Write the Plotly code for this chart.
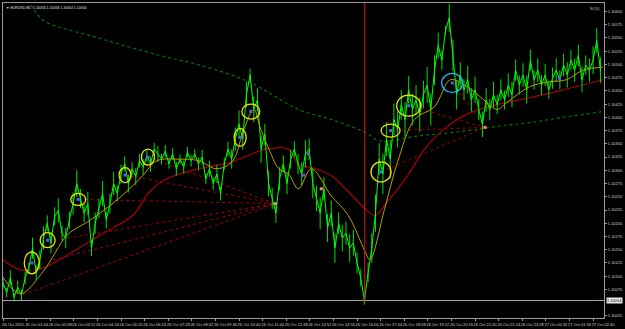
import plotly.graph_objects as go
import pandas as pd

# ---------------- data ----------------
start_time = "2015-10-26 00:00"
close = [
    1.10088, 1.10069, 1.10097, 1.10060, 1.10079, 1.10064, 1.10097, 1.10116, 1.10153, 1.10107,
    1.10131, 1.10172, 1.10200, 1.10163, 1.10213, 1.10224, 1.10181, 1.10172, 1.10206, 1.10237,
    1.10275, 1.10247, 1.10219, 1.10237, 1.10153, 1.10200, 1.10228, 1.10256, 1.10206, 1.10237,
    1.10275, 1.10256, 1.10293, 1.10312, 1.10275, 1.10303, 1.10288, 1.10318, 1.10306, 1.10327,
    1.10312, 1.10340, 1.10331, 1.10321, 1.10336, 1.10312, 1.10331, 1.10303, 1.10321, 1.10306,
    1.10334, 1.10318, 1.10331, 1.10312, 1.10325, 1.10284, 1.10303, 1.10275, 1.10293, 1.10256,
    1.10312, 1.10340, 1.10321, 1.10359, 1.10387, 1.10359, 1.10443, 1.10480, 1.10415, 1.10433,
    1.10340, 1.10368, 1.10275, 1.10247, 1.10219, 1.10284, 1.10312, 1.10275, 1.10321, 1.10340,
    1.10312, 1.10293, 1.10331, 1.10340, 1.10275, 1.10247, 1.10219, 1.10265, 1.10191, 1.10219,
    1.10153, 1.10200, 1.10172, 1.10181, 1.10153, 1.10163, 1.10125, 1.10097, 1.10054, 1.10107,
    1.10153, 1.10219, 1.10321, 1.10293, 1.10359, 1.10321, 1.10396, 1.10377, 1.10424, 1.10396,
    1.10452, 1.10415, 1.10433, 1.10405, 1.10443, 1.10461, 1.10415, 1.10489, 1.10536, 1.10508,
    1.10564, 1.10588, 1.10517, 1.10443, 1.10480, 1.10452, 1.10471, 1.10433, 1.10452, 1.10415,
    1.10387, 1.10433, 1.10415, 1.10443, 1.10424, 1.10452, 1.10433, 1.10461, 1.10443, 1.10489,
    1.10461, 1.10480, 1.10452, 1.10508, 1.10471, 1.10489, 1.10461, 1.10480, 1.10452, 1.10474,
    1.10489, 1.10471, 1.10499, 1.10480, 1.10508, 1.10489, 1.10517, 1.10471, 1.10499, 1.10489,
    1.10508, 1.10545, 1.10489,
]
# half of the high-low range of the minute bars around each close (price units)
bar_half_range = [
    0.00012, 0.00009, 0.00014, 0.00008, 0.00013, 0.00010, 0.00012, 0.00009,
    0.00020, 0.00014, 0.00018, 0.00022, 0.00015, 0.00020, 0.00017, 0.00023, 0.00014, 0.00019,
    0.00016, 0.00021, 0.00025, 0.00018,
    0.00017, 0.00022, 0.00015, 0.00020, 0.00018, 0.00024, 0.00016, 0.00019, 0.00022, 0.00015,
    0.00018,
    0.00014, 0.00017, 0.00012, 0.00016, 0.00013, 0.00015, 0.00011, 0.00014, 0.00012, 0.00015,
    0.00010, 0.00012, 0.00009, 0.00011, 0.00013, 0.00009, 0.00012, 0.00010, 0.00011, 0.00009,
    0.00012, 0.00014, 0.00010, 0.00015, 0.00012, 0.00017, 0.00013, 0.00011, 0.00014,
    0.00018, 0.00022, 0.00026, 0.00020, 0.00024, 0.00012, 0.00024, 0.00022, 0.00026, 0.00020,
    0.00024,
    0.00020, 0.00018, 0.00022, 0.00016, 0.00020, 0.00018, 0.00015, 0.00019,
    0.00022, 0.00026, 0.00020, 0.00028, 0.00024, 0.00030, 0.00022, 0.00026, 0.00024, 0.00028,
    0.00020, 0.00025, 0.00022, 0.00026, 0.00024, 0.00020, 0.00016, 0.00008,
    0.00018, 0.00028, 0.00035, 0.00030, 0.00038, 0.00032, 0.00036, 0.00030, 0.00034, 0.00028,
    0.00032, 0.00026, 0.00030, 0.00028, 0.00032, 0.00026, 0.00034, 0.00030, 0.00028, 0.00024,
    0.00018, 0.00008, 0.00026, 0.00030, 0.00028,
    0.00024, 0.00020, 0.00026, 0.00022, 0.00025, 0.00020, 0.00024, 0.00022, 0.00020, 0.00024,
    0.00018,
    0.00020, 0.00018, 0.00022, 0.00024, 0.00020, 0.00018, 0.00022, 0.00026, 0.00020, 0.00018,
    0.00022, 0.00019, 0.00021, 0.00017, 0.00020, 0.00022, 0.00018, 0.00021, 0.00024, 0.00019,
    0.00022, 0.00020, 0.00024, 0.00018, 0.00022, 0.00026, 0.00024, 0.00024,
]

ma_fast_time = [
    "2015-10-26 00:00", "2015-10-26 00:48", "2015-10-26 01:50", "2015-10-26 02:55", "2015-10-26 03:57",
    "2015-10-26 05:04", "2015-10-26 05:52", "2015-10-26 06:19", "2015-10-26 06:57", "2015-10-26 07:59",
    "2015-10-26 08:52", "2015-10-26 09:38", "2015-10-26 10:21", "2015-10-26 10:53", "2015-10-26 11:20",
    "2015-10-26 11:39", "2015-10-26 12:01", "2015-10-26 12:28", "2015-10-26 12:54", "2015-10-26 13:21",
    "2015-10-26 13:56", "2015-10-26 14:50", "2015-10-26 15:36", "2015-10-26 16:21", "2015-10-26 16:35",
    "2015-10-26 17:15", "2015-10-26 17:50", "2015-10-26 18:36", "2015-10-26 19:30", "2015-10-26 20:13",
    "2015-10-26 20:58", "2015-10-26 21:44", "2015-10-26 22:20", "2015-10-26 22:46", "2015-10-26 23:48",
    "2015-10-27 00:42", "2015-10-27 01:27", "2015-10-27 02:13", "2015-10-27 03:07",
]
ma_fast = [
    1.10097, 1.10067, 1.10110, 1.10178, 1.10206, 1.10241, 1.10271, 1.10290, 1.10318, 1.10321,
    1.10318, 1.10303, 1.10316, 1.10377, 1.10415, 1.10377, 1.10340, 1.10303, 1.10293, 1.10265,
    1.10303, 1.10252, 1.10215, 1.10148, 1.10131, 1.10228, 1.10316, 1.10396, 1.10420, 1.10471,
    1.10458, 1.10433, 1.10415, 1.10428, 1.10458, 1.10467, 1.10471, 1.10489, 1.10495,
]

ma_slow_time = [
    "2015-10-26 00:00", "2015-10-26 00:48", "2015-10-26 01:50", "2015-10-26 02:55", "2015-10-26 04:24",
    "2015-10-26 05:52", "2015-10-26 06:38", "2015-10-26 07:24", "2015-10-26 08:52", "2015-10-26 10:21",
    "2015-10-26 11:53", "2015-10-26 12:54", "2015-10-26 13:21", "2015-10-26 14:07", "2015-10-26 14:50",
    "2015-10-26 15:36", "2015-10-26 16:21", "2015-10-26 16:48", "2015-10-26 17:23", "2015-10-26 18:17",
    "2015-10-26 19:03", "2015-10-26 20:05", "2015-10-26 21:07", "2015-10-26 22:20", "2015-10-26 23:48",
    "2015-10-27 01:19", "2015-10-27 03:07",
]
ma_slow = [
    1.10131, 1.10112, 1.10116, 1.10140, 1.10178, 1.10215, 1.10260, 1.10284, 1.10303, 1.10316,
    1.10340, 1.10340, 1.10312, 1.10303, 1.10290, 1.10260, 1.10228, 1.10215, 1.10241, 1.10290,
    1.10340, 1.10383, 1.10409, 1.10424, 1.10437, 1.10452, 1.10471,
]

ma_long_time = [
    "2015-10-26 00:48", "2015-10-26 01:21", "2015-10-26 01:50", "2015-10-26 04:24", "2015-10-26 07:05",
    "2015-10-26 08:52", "2015-10-26 11:07", "2015-10-26 13:21", "2015-10-26 14:50", "2015-10-26 16:21",
    "2015-10-26 17:05", "2015-10-26 18:36", "2015-10-26 20:50", "2015-10-26 22:20", "2015-10-26 23:48",
    "2015-10-27 01:19", "2015-10-27 03:07",
]
ma_long = [
    1.10640, 1.10607, 1.10583, 1.10549, 1.10517, 1.10499, 1.10467, 1.10415, 1.10396, 1.10372,
    1.10355, 1.10364, 1.10374, 1.10383, 1.10390, 1.10400, 1.10411,
]

# circled swing points
circle_time = ["2015-10-26 01:18", "2015-10-26 02:01", "2015-10-26 03:24", "2015-10-26 05:31",
               "2015-10-26 06:33", "2015-10-26 10:43", "2015-10-26 11:12", "2015-10-26 17:05",
               "2015-10-26 17:31", "2015-10-26 18:20", "2015-10-26 20:18"]
circle_price = [1.10125, 1.10168, 1.10245, 1.10291, 1.10325, 1.10362, 1.10411, 1.10297,
                1.10375, 1.10422, 1.10465]

# ray endpoints (dotted lines converge on two pivots)
left_pivot_time, left_pivot_price = "2015-10-26 12:19", 1.10237
left_ray_time = ["2015-10-26 00:54", "2015-10-26 02:17", "2015-10-26 02:55", "2015-10-26 03:24",
                 "2015-10-26 05:31", "2015-10-26 06:33"]
left_ray_price = [1.10065, 1.10131, 1.10172, 1.10245, 1.10291, 1.10325]
right_pivot_time, right_pivot_price = "2015-10-26 21:47", 1.10381
right_ray_time = ["2015-10-26 17:05", "2015-10-26 17:31", "2015-10-26 18:20", "2015-10-26 20:18"]
right_ray_price = [1.10297, 1.10375, 1.10422, 1.10465]

extra_blue_time = ["2015-10-26 13:48", "2015-10-26 13:35", "2015-10-27 01:09"]
extra_blue_price = [1.10331, 1.10291, 1.10474]
extra_pink_time = ["2015-10-26 14:23"]
extra_pink_price = [1.10265]

bid_price = 1.10054
vline_time = "2015-10-26 16:21"

y_ticks = [1.10600, 1.10575, 1.10550, 1.10525, 1.10500, 1.10475, 1.10450, 1.10425,
           1.10400, 1.10375, 1.10350, 1.10325, 1.10300, 1.10275, 1.10250, 1.10225,
           1.10200, 1.10175, 1.10150, 1.10125, 1.10100, 1.10075, 1.10025]
x_tick_time = pd.date_range(start_time, periods=26, freq="64min")
x_tick_text = ["26 Oct 2015"] + [t.strftime("%d %b %H:%M") for t in x_tick_time[1:]]

title_text = "▼ EURUSD,M1  1.10056 1.10058 1.10054 1.10054"

# ---------------- figure ----------------
close_time = pd.date_range(start_time, periods=len(close), freq="10min")
FONT = "Liberation Sans"

fig = go.Figure()

# long MA (dotted green)
fig.add_trace(go.Scatter(x=ma_long_time, y=ma_long, mode="lines",
                         line=dict(color="#008000", width=1.1, dash="dot", shape="spline"),
                         hoverinfo="skip"))
# rays
for t, p in zip(left_ray_time, left_ray_price):
    fig.add_trace(go.Scatter(x=[t, left_pivot_time], y=[p, left_pivot_price], mode="lines",
                             line=dict(color="#a00000", width=1, dash="dot"), hoverinfo="skip"))
for t, p in zip(right_ray_time, right_ray_price):
    fig.add_trace(go.Scatter(x=[t, right_pivot_time], y=[p, right_pivot_price], mode="lines",
                             line=dict(color="#a00000", width=1, dash="dot"), hoverinfo="skip"))
# slow MA (red)
fig.add_trace(go.Scatter(x=ma_slow_time, y=ma_slow, mode="lines",
                         line=dict(color="#a80000", width=1.2, shape="spline"), hoverinfo="skip"))
# price (close line with bar ranges)
fig.add_trace(go.Scatter(x=close_time, y=close, mode="lines",
                         line=dict(color="#00ff00", width=1),
                         error_y=dict(type="data", array=bar_half_range, symmetric=True,
                                      color="#00e000", thickness=1, width=0),
                         hoverinfo="skip"))
# fast MA (olive)
fig.add_trace(go.Scatter(x=ma_fast_time, y=ma_fast, mode="lines",
                         line=dict(color="#b0a400", width=1, shape="spline"), hoverinfo="skip"))
# markers
fig.add_trace(go.Scatter(x=circle_time + extra_blue_time, y=circle_price + extra_blue_price,
                         mode="markers", marker=dict(color="#5a5aff", size=3, symbol="square"),
                         hoverinfo="skip"))
fig.add_trace(go.Scatter(x=[left_pivot_time, right_pivot_time] + extra_pink_time,
                         y=[left_pivot_price, right_pivot_price] + extra_pink_price,
                         mode="markers", marker=dict(color="#ff8080", size=3, symbol="square"),
                         hoverinfo="skip"))

# circles around swing points
circle_w = [15, 15, 15, 12, 13, 12, 18, 20, 19, 24, 21]
circle_h = [22, 15, 12, 15, 16, 18, 15, 20, 13, 21, 19]
circle_col = ["#f0e000"] * 10 + ["#20b8ff"]
shapes = []
for t, p, w, h, c in zip(circle_time, circle_price, circle_w, circle_h, circle_col):
    shapes.append(dict(type="circle", xref="x", yref="y", xsizemode="pixel", ysizemode="pixel",
                       xanchor=t, yanchor=p, x0=-w / 2, x1=w / 2, y0=-h / 2, y1=h / 2,
                       line=dict(color=c, width=1.3)))
# bid line and vertical line
shapes.append(dict(type="line", xref="paper", yref="y", x0=0, x1=1, y0=bid_price, y1=bid_price,
                   line=dict(color="#a8a8a8", width=1)))
shapes.append(dict(type="line", xref="x", yref="paper", x0=vline_time, x1=vline_time, y0=0.05, y1=1,
                   line=dict(color="#e02020", width=1)))

fig.update_layout(
    width=625, height=329,
    margin=dict(l=2, r=17, t=2, b=10),
    paper_bgcolor="#000000", plot_bgcolor="#000000",
    showlegend=False,
    shapes=shapes,
    font=dict(family=FONT, size=4, color="#d0d0d0"),
    annotations=[
        dict(xref="paper", yref="paper", x=0.002, y=0.998, xanchor="left", yanchor="top",
             text=title_text, showarrow=False, font=dict(family=FONT, size=3.5, color="#e0e0e0")),
        dict(xref="paper", yref="paper", x=0.997, y=0.998, xanchor="right", yanchor="top",
             text="SC(f)", showarrow=False, font=dict(family=FONT, size=4, color="#c0c0c0")),
        dict(xref="paper", yref="y", x=1.0, y=bid_price, xanchor="left", yanchor="middle",
             text=f"{bid_price:.5f}", showarrow=False, bgcolor="#e8e8e8", borderpad=0,
             xshift=2, font=dict(family=FONT, size=4, color="#000000")),
    ],
)
fig.update_xaxes(
    range=["2015-10-26 00:00", "2015-10-27 03:09:36"],
    showgrid=False, zeroline=False,
    showline=True, linecolor="#9a9a9a", linewidth=1, mirror=True,
    tickmode="array", tickvals=x_tick_time, ticktext=x_tick_text,
    ticks="outside", ticklen=2, tickcolor="#9a9a9a", tickangle=0,
    ticklabelshift=10, ticklabelstandoff=0,
    tickfont=dict(family=FONT, size=4, color="#d0d0d0"),
)
fig.update_yaxes(
    range=[1.10021, 1.10616], side="right",
    showgrid=False, zeroline=False,
    showline=True, linecolor="#9a9a9a", linewidth=1, mirror=True,
    tickmode="array", tickvals=y_ticks, tickformat=".5f",
    ticks="outside", ticklen=2, tickcolor="#9a9a9a",
    ticklabelstandoff=0,
    tickfont=dict(family=FONT, size=4, color="#d0d0d0"),
)

fig.write_html("out.html")
